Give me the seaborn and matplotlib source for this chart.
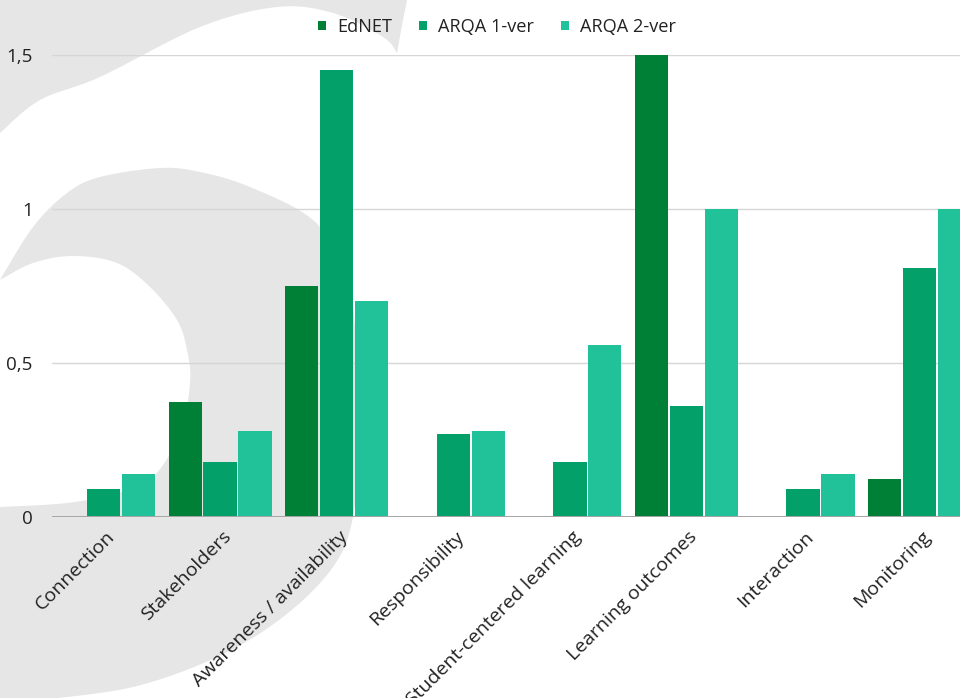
import numpy as np
import pandas as pd
import matplotlib
matplotlib.use("Agg")
import matplotlib.pyplot as plt
import matplotlib.transforms as mtransforms
from matplotlib.patches import Polygon
from matplotlib.ticker import FuncFormatter
import seaborn as sns

categories = ["Connection", "Stakeholders", "Awareness / availability", "Responsibility",
              "Student-centered learning", "Learning outcomes", "Interaction", "Monitoring"]
series_names = ["EdNET", "ARQA 1-ver", "ARQA 2-ver"]
ednet = [0, 0.375, 0.75, 0, 0, 1.5, 0, 0.125]
arqa1 = [0.09, 0.18, 1.45, 0.27, 0.18, 0.36, 0.09, 0.81]
arqa2 = [0.14, 0.28, 0.70, 0.28, 0.56, 1.0, 0.14, 1.0]
yticks = [0, 0.5, 1, 1.5]
colors = ["#008037", "#04a06a", "#21c19a"]

df = pd.DataFrame({
    "category": categories * 3,
    "series": [s for s in series_names for _ in categories],
    "value": ednet + arqa1 + arqa2,
})

sns.set_theme(style="white")
plt.rcParams["font.family"] = ["Open Sans", "DejaVu Sans"]
plt.rcParams["text.color"] = "#222222"

W, H = 960, 698
fig = plt.figure(figsize=(W / 100, H / 100), dpi=100)
fig.patch.set_facecolor("white")

# --- background watermark (decoration) in pixel coordinates ---
bg = fig.add_axes([0, 0, 1, 1], zorder=-1)
bg.set_xlim(0, W)
bg.set_ylim(H, 0)
bg.axis("off")


def smooth(pts, n=12):
    pts = np.asarray(pts, float)
    out = []
    for i in range(len(pts) - 1):
        p0 = pts[i - 1] if i > 0 else pts[i]
        p1, p2 = pts[i], pts[i + 1]
        p3 = pts[i + 2] if i + 2 < len(pts) else pts[i + 1]
        for t in np.linspace(0, 1, n, endpoint=False):
            t2, t3 = t * t, t * t * t
            out.append(0.5 * ((2 * p1) + (-p0 + p2) * t + (2 * p0 - 5 * p1 + 4 * p2 - p3) * t2
                              + (-p0 + 3 * p1 - 3 * p2 + p3) * t3))
    out.append(pts[-1])
    return np.array(out)


gray = "#e6e6e6"
upper_curve = smooth([(397, 53), (383, 37), (333, 13), (277, 7), (200, 27), (100, 77), (40, 100), (0, 133)])
upper = np.vstack([[(0, 0), (407, 0), (402, 25)], upper_curve])
bg.add_patch(Polygon(upper, closed=True, facecolor=gray, edgecolor="none"))

outer = smooth([(0, 280), (33, 227), (67, 193), (100, 177), (160, 168), (200, 172), (250, 187),
                (313, 220), (345, 270), (356, 340), (358, 440), (353, 517), (333, 567), (283, 617),
                (217, 657), (133, 687), (40, 700)])
inner = smooth([(0, 507), (67, 503), (117, 493), (153, 477), (180, 433), (190, 383), (187, 350),
                (177, 320), (150, 287), (117, 263), (73, 256), (33, 263), (0, 280)])
lower = np.vstack([outer, [(0, 700)], inner])
bg.add_patch(Polygon(lower, closed=True, facecolor=gray, edgecolor="none"))

# --- main chart ---
left_px, right_px, top_px, bottom_px = 52, 960, 55, 517
ax = fig.add_axes([left_px / W, (H - bottom_px) / H, (right_px - left_px) / W, (bottom_px - top_px) / H])
ax.set_facecolor("none")

sns.barplot(data=df, x="category", y="value", hue="series", hue_order=series_names,
            order=categories, palette=colors, width=0.9, gap=0.05, saturation=1,
            edgecolor="none", linewidth=0, errorbar=None, ax=ax, zorder=3)

c0, step = 103.5, 116.6
ax.set_xlim((left_px - c0) / step, (right_px - c0) / step)
ax.set_ylim(0, 1.5)
ax.set_yticks(yticks)
ax.yaxis.set_major_formatter(FuncFormatter(lambda v, p: f"{v:g}".replace(".", ",")))
ax.grid(axis="y", color="#d6d6d6", linewidth=1, zorder=0)
ax.grid(axis="x", visible=False)
ax.axhline(0, color="#a6a6a6", linewidth=1.4, zorder=4)
for s in ax.spines.values():
    s.set_visible(False)
ax.set_xlabel("")
ax.set_ylabel("")
ax.tick_params(axis="y", length=0, pad=14, labelsize=13.5, labelcolor="#222222")
ax.tick_params(axis="x", length=0, pad=10, labelsize=14, labelcolor="#222222")
shift = mtransforms.ScaledTranslation(8 / 100, -3 / 100, fig.dpi_scale_trans)
for lab in ax.get_xticklabels():
    lab.set_rotation(45)
    lab.set_ha("right")
    lab.set_va("center")
    lab.set_rotation_mode("anchor")
    lab.set_transform(lab.get_transform() + shift)
ax.set_axisbelow(True)

handles, labels = ax.get_legend_handles_labels()
ax.get_legend().remove()
fig.legend(handles, labels, loc="center", bbox_to_anchor=(497 / W, 1 - 27 / H), ncol=3,
           frameon=False, fontsize=13.1, handlelength=0.45, handleheight=0.45,
           handletextpad=0.6, columnspacing=1.5)

fig.savefig("out.png", dpi=100)
